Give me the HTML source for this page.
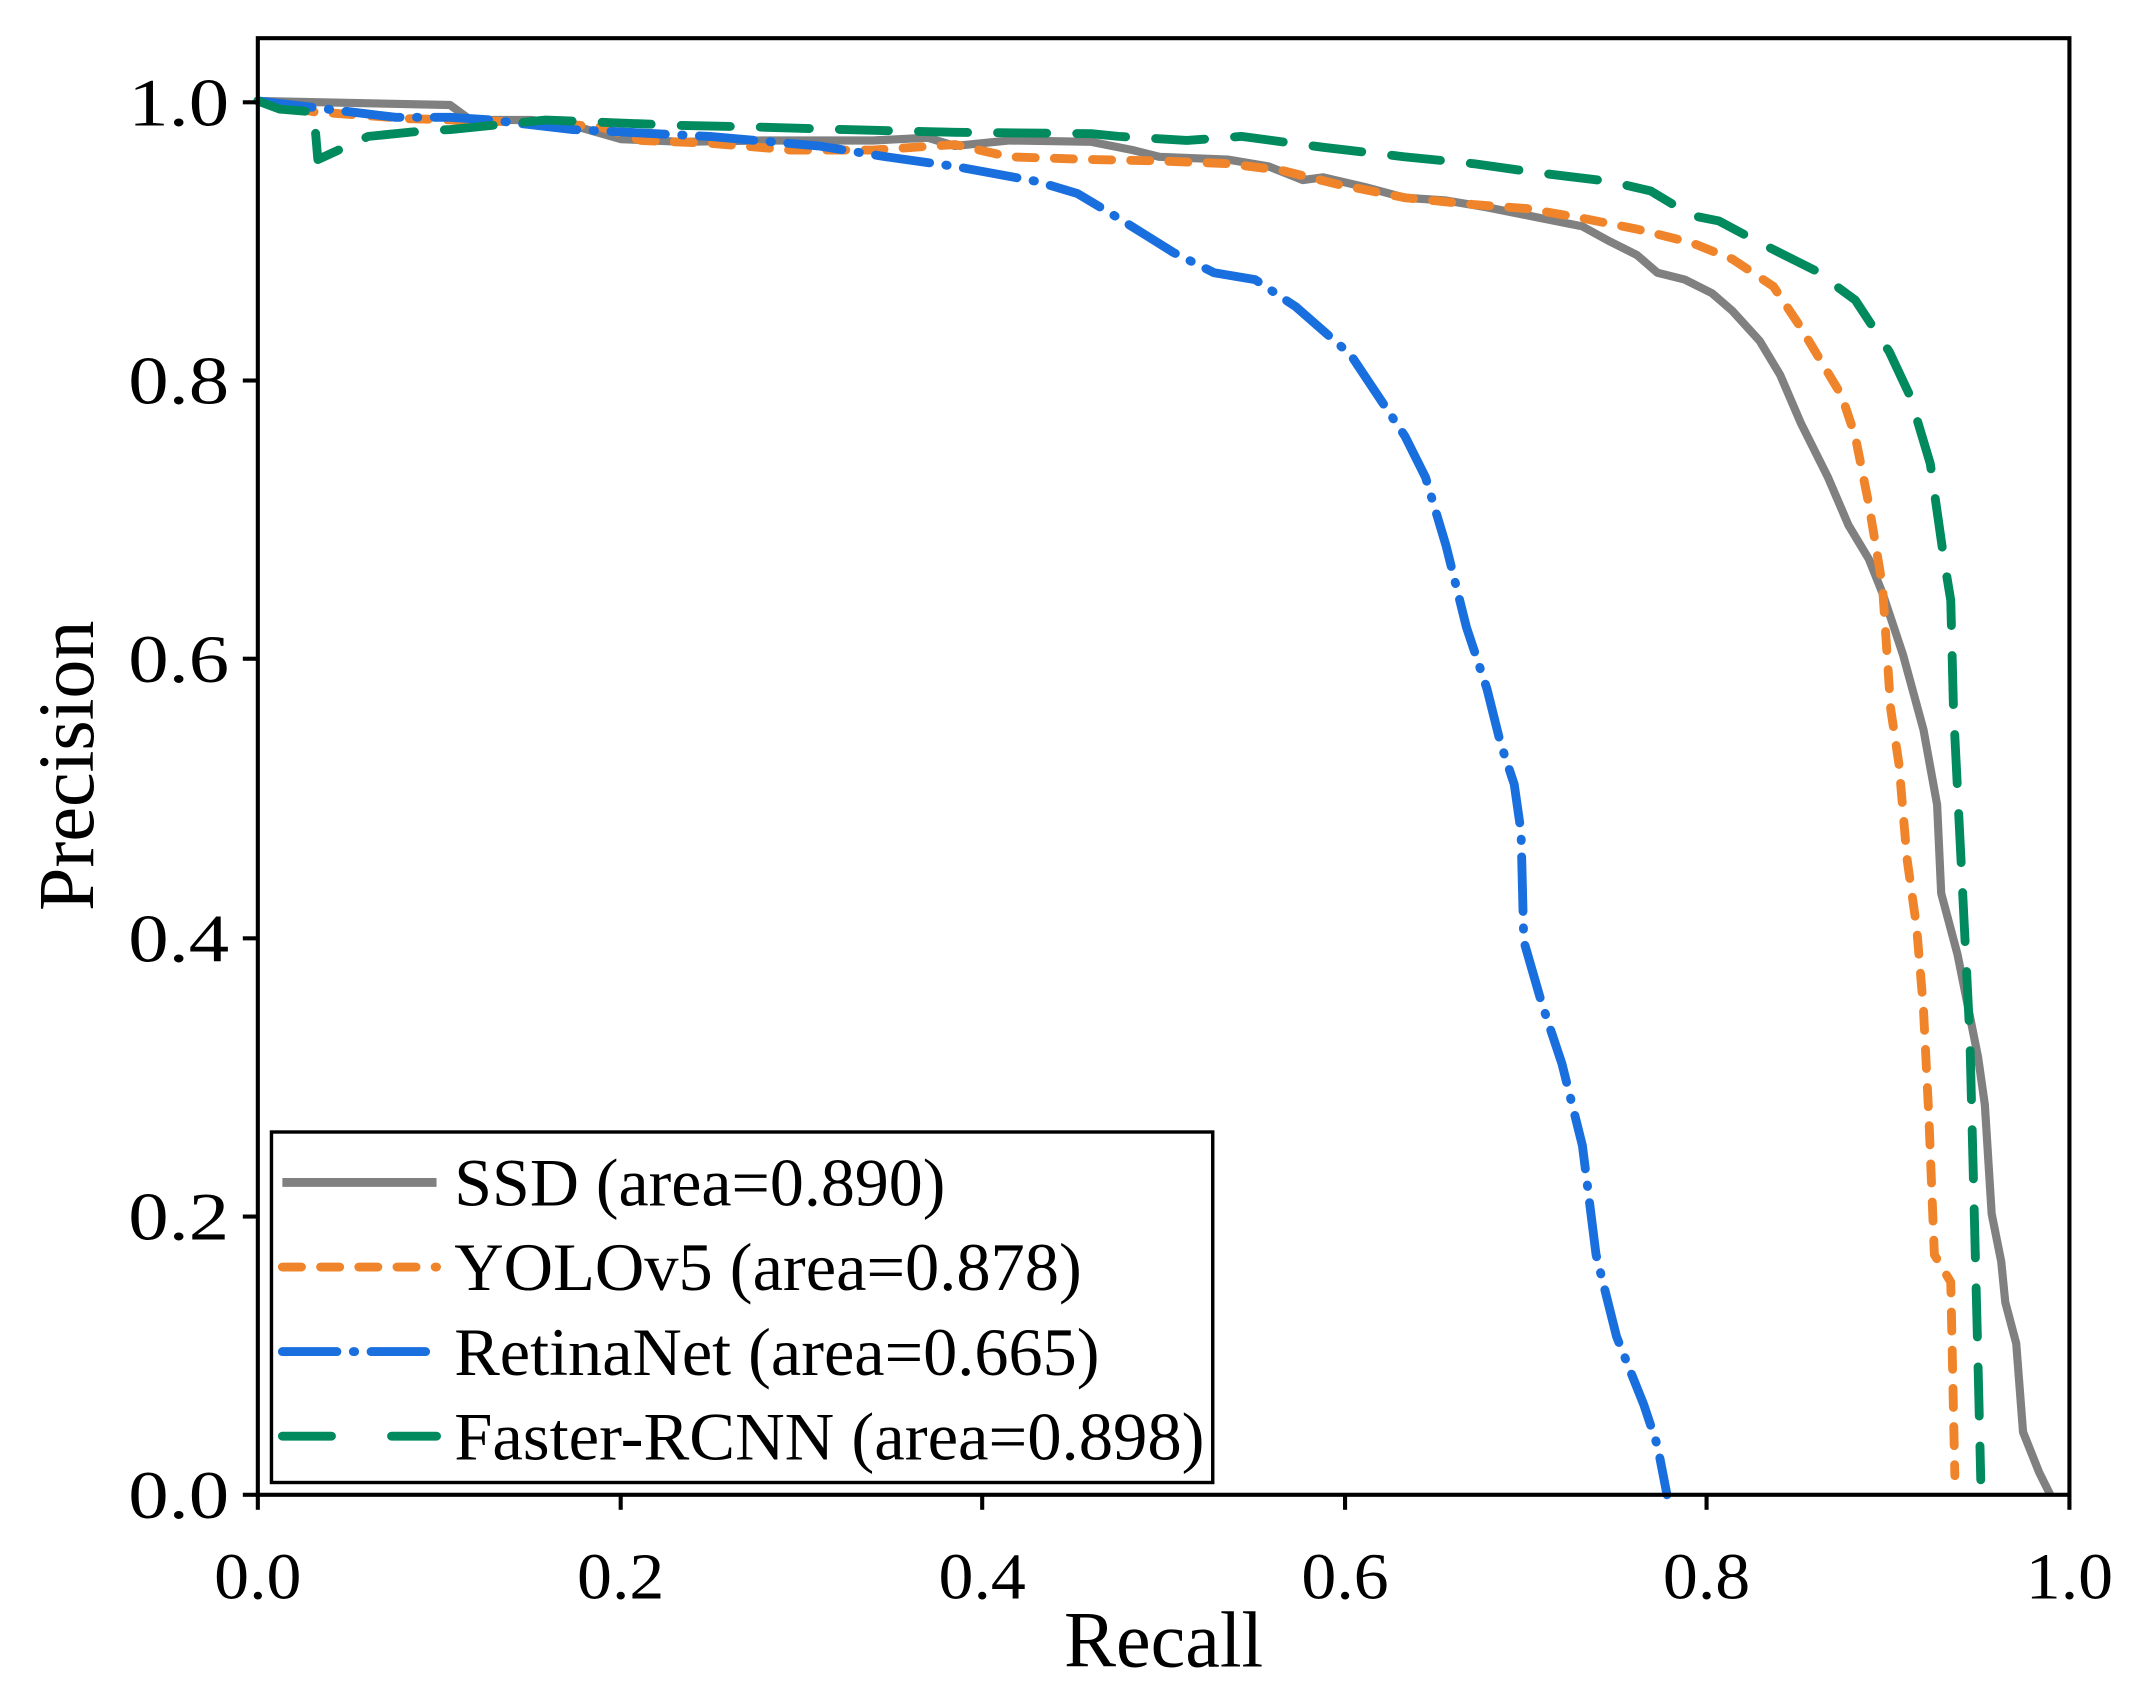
<!DOCTYPE html>
<html><head><style>html,body{margin:0;padding:0;background:#fff}svg{display:block}</style></head>
<body>
<svg width="2139" height="1698" viewBox="0 0 1568 1245" preserveAspectRatio="none" xmlns="http://www.w3.org/2000/svg" font-family="'Liberation Serif',serif">
<rect width="1568" height="1245" fill="#fff"/>
<g fill="none" stroke-width="6.5" stroke-linejoin="round">
<polyline stroke="#808080" stroke-width="6" points="189,74 330,77 345,88 390,88 420,92 455,102 500,104 560,103 640,103 680,101 700,107 740,103 800,104 830,110 850,115 900,117 930,122 955,132 970,130 1000,137 1030,145 1060,147 1090,152 1130,160 1160,166 1180,177 1200,187 1215,200 1235,205 1255,215 1270,228 1290,250 1305,275 1320,310 1330,330 1340,350 1355,385 1370,410 1380,435 1395,480 1410,535 1420,590 1423,655 1435,700 1450,775 1455,810 1460,890 1467,925 1470,955 1478,985 1483,1050 1495,1080 1503,1096"/>
<polyline stroke="#f0842a" stroke-linecap="round" stroke-dasharray="14,14" points="189,74 230,82 300,87 400,90 440,93 470,103 520,105 580,110 640,110 700,106 740,115 800,117 850,118 900,120 940,125 980,135 1030,145 1080,150 1120,153 1160,160 1200,168 1240,178 1270,190 1300,210 1320,240 1335,265 1350,290 1360,320 1370,370 1380,430 1386,520 1392,560 1398,630 1405,680 1410,740 1414,820 1418,920 1430,940 1433,1082"/>
<polyline stroke="#1a6fdf" stroke-linecap="round" stroke-dasharray="40,12,1,12" points="189,74 240,80 290,86 330,86 360,88 420,95 520,100 600,107 650,115 700,122 760,133 790,142 820,160 860,185 890,200 920,205 950,225 990,260 1010,290 1030,320 1045,350 1060,400 1075,460 1090,505 1100,545 1110,575 1115,610 1117,690 1130,735 1145,780 1160,840 1170,920 1185,980 1205,1030 1215,1060 1222,1096"/>
<polyline stroke="#008a5e" stroke-linecap="round" stroke-dasharray="36,22" points="189,74 205,80 230,82 233,117 270,100 310,96 330,95 400,88 450,90 500,92 550,93 620,95 700,97 800,98 820,100 870,103 910,100 940,104 970,108 1030,115 1080,120 1130,127 1180,133 1210,140 1240,158 1260,162 1290,178 1330,198 1360,220 1385,258 1400,290 1415,340 1425,410 1430,440 1432,520 1436,600 1440,680 1444,760 1446,840 1448,920 1450,1000 1452,1085"/>
</g>
<rect x="189" y="28" width="1328" height="1068" fill="none" stroke="#000" stroke-width="3"/>
<g stroke="#000" stroke-width="3">
<line x1="189" y1="1096" x2="189" y2="1107"/><line x1="455" y1="1096" x2="455" y2="1107"/><line x1="720" y1="1096" x2="720" y2="1107"/><line x1="986" y1="1096" x2="986" y2="1107"/><line x1="1251" y1="1096" x2="1251" y2="1107"/><line x1="1517" y1="1096" x2="1517" y2="1107"/>
<line x1="178" y1="1096" x2="189" y2="1096"/><line x1="178" y1="892" x2="189" y2="892"/><line x1="178" y1="688" x2="189" y2="688"/><line x1="178" y1="483" x2="189" y2="483"/><line x1="178" y1="279" x2="189" y2="279"/><line x1="178" y1="75" x2="189" y2="75"/>
</g>
<g font-size="48" text-anchor="middle" fill="#000">
<text x="189" y="1172" textLength="64" lengthAdjust="spacingAndGlyphs">0.0</text><text x="455" y="1172" textLength="64" lengthAdjust="spacingAndGlyphs">0.2</text><text x="720" y="1172" textLength="64" lengthAdjust="spacingAndGlyphs">0.4</text><text x="986" y="1172" textLength="64" lengthAdjust="spacingAndGlyphs">0.6</text><text x="1251" y="1172" textLength="64" lengthAdjust="spacingAndGlyphs">0.8</text><text x="1517" y="1172" textLength="64" lengthAdjust="spacingAndGlyphs">1.0</text>
</g>
<g font-size="50" fill="#000">
<text x="94" y="1113" textLength="74" lengthAdjust="spacingAndGlyphs">0.0</text><text x="94" y="909" textLength="74" lengthAdjust="spacingAndGlyphs">0.2</text><text x="94" y="705" textLength="74" lengthAdjust="spacingAndGlyphs">0.4</text><text x="94" y="500" textLength="74" lengthAdjust="spacingAndGlyphs">0.6</text><text x="94" y="296" textLength="74" lengthAdjust="spacingAndGlyphs">0.8</text><text x="94" y="92" textLength="74" lengthAdjust="spacingAndGlyphs">1.0</text>
</g>
<text x="780" y="1222" font-size="58" textLength="146" lengthAdjust="spacingAndGlyphs">Recall</text>
<text transform="translate(68,668) rotate(-90)" font-size="58" textLength="213" lengthAdjust="spacingAndGlyphs">Precision</text>
<rect x="199" y="830" width="690" height="257" fill="#fff" stroke="#000" stroke-width="2.5"/>
<g stroke-width="6.5" fill="none" stroke-linecap="round">
<line x1="207" y1="867" x2="320" y2="867" stroke="#808080" stroke-linecap="butt"/>
<line x1="207" y1="929" x2="320" y2="929" stroke="#f0842a" stroke-dasharray="14,14"/>
<line x1="207" y1="991" x2="320" y2="991" stroke="#1a6fdf" stroke-dasharray="40,12,1,12"/>
<line x1="207" y1="1053" x2="320" y2="1053" stroke="#008a5e" stroke-dasharray="36,44"/>
</g>
<g font-size="50" fill="#000">
<text x="333" y="884" textLength="360" lengthAdjust="spacingAndGlyphs">SSD (area=0.890)</text>
<text x="333" y="946" textLength="460" lengthAdjust="spacingAndGlyphs">YOLOv5 (area=0.878)</text>
<text x="333" y="1008" textLength="473" lengthAdjust="spacingAndGlyphs">RetinaNet (area=0.665)</text>
<text x="333" y="1070" textLength="550" lengthAdjust="spacingAndGlyphs">Faster-RCNN (area=0.898)</text>
</g>
</svg>
</body></html>
